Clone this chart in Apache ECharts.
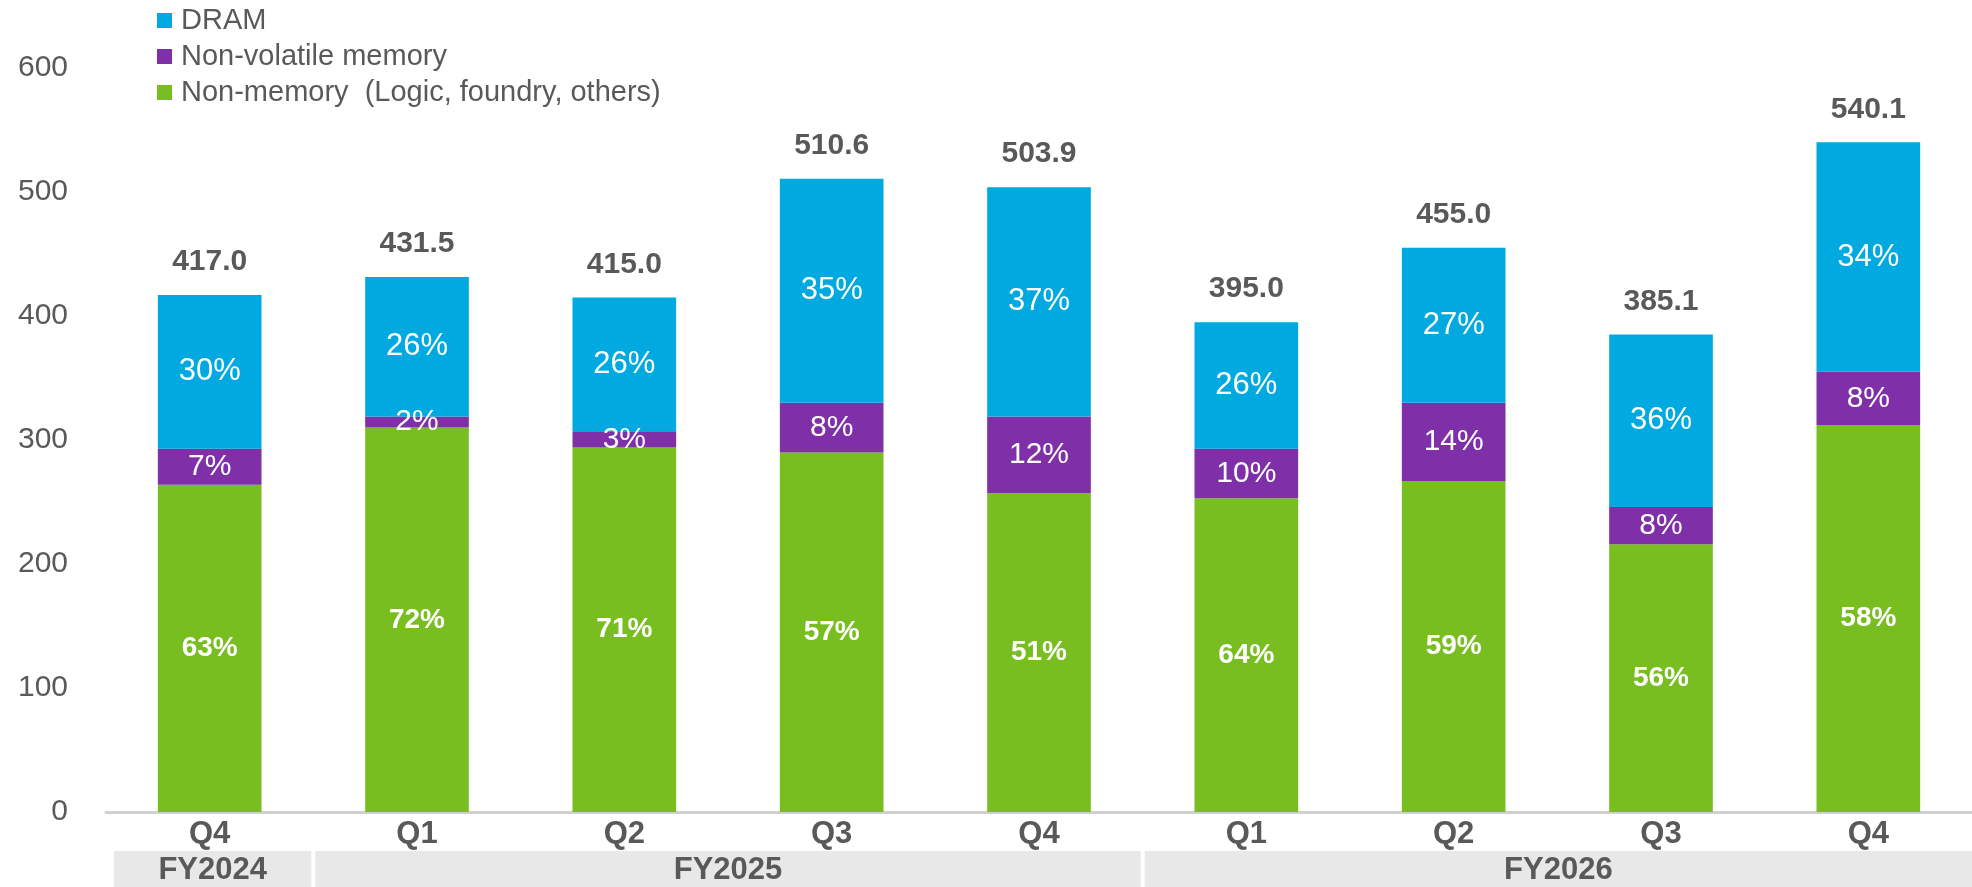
<!DOCTYPE html>
<html><head><meta charset="utf-8">
<script src="https://cdn.jsdelivr.net/npm/echarts@6/dist/echarts.min.js"></script>
<style>html,body{margin:0;padding:0;background:#fff}#c{width:1972px;height:887px}</style>
</head><body><div id="c"></div>
<script>
const quarters = ['Q4','Q1','Q2','Q3','Q4','Q1','Q2','Q3','Q4'];
const fiscalYears = [
  {name:'FY2024', from:0, to:0},
  {name:'FY2025', from:1, to:4},
  {name:'FY2026', from:5, to:8}
];
const nonMemory = [264, 310, 294, 290, 257, 253, 267, 216, 312];
const nonVolatile = [29, 9, 13, 40, 62, 40, 63, 30, 43];
const dram = [124, 112.5, 108, 180.6, 184.9, 102, 125, 139.1, 185.1];
const totals = ['417.0','431.5','415.0','510.6','503.9','395.0','455.0','385.1','540.1'];
const nonMemoryPct = [63, 72, 71, 57, 51, 64, 59, 56, 58];
const nonVolatilePct = [7, 2, 3, 8, 12, 10, 14, 8, 8];
const dramPct = [30, 26, 26, 35, 37, 26, 27, 36, 34];
const yTicks = [0, 100, 200, 300, 400, 500, 600];

const FONT = '"Liberation Sans", Arial, sans-serif';
const GRAY = '#595959';
const chart = echarts.init(document.getElementById('c'));
const option = {
  animation: false,
  textStyle: {fontFamily: FONT},
  grid: {left: 106, width: 1868, top: 68, bottom: 75, containLabel: false},
  legend: {
    data: ['DRAM', 'Non-volatile memory', 'Non-memory  (Logic, foundry, others)'],
    orient: 'vertical', left: 152, top: 1, itemWidth: 15, itemHeight: 15, itemGap: 7,
    icon: 'rect',
    textStyle: {fontFamily: FONT, fontSize: 29, color: GRAY, padding: [0, 0, 0, 4]}
  },
  xAxis: {
    type: 'category', data: quarters,
    axisLine: {lineStyle: {color: '#d0d0d0', width: 3}},
    axisTick: {show: false},
    axisLabel: {fontFamily: FONT, fontSize: 31, fontWeight: 'bold', color: GRAY, margin: 7}
  },
  yAxis: {
    type: 'value', min: yTicks[0], max: yTicks[yTicks.length - 1], interval: 100,
    splitLine: {show: false}, axisLine: {show: false}, axisTick: {show: false},
    axisLabel: {fontFamily: FONT, fontSize: 30, color: GRAY, margin: 38}
  },
  series: [
    {
      name: 'Non-memory  (Logic, foundry, others)', type: 'bar', stack: 'a', barWidth: '50%',
      data: nonMemory, itemStyle: {color: '#78BE20'},
      label: {show: true, position: 'inside', color: '#fff', fontFamily: FONT, fontSize: 28, fontWeight: 'bold',
        formatter: p => nonMemoryPct[p.dataIndex] + '%'}
    },
    {
      name: 'Non-volatile memory', type: 'bar', stack: 'a',
      data: nonVolatile, itemStyle: {color: '#7F30A8'},
      label: {show: true, position: 'inside', color: '#fff', fontFamily: FONT, fontSize: 30,
        formatter: p => nonVolatilePct[p.dataIndex] + '%'}
    },
    {
      name: 'DRAM', type: 'bar', stack: 'a',
      data: dram, itemStyle: {color: '#00A9E0'},
      label: {show: true, position: 'inside', color: '#fff', fontFamily: FONT, fontSize: 31,
        formatter: p => dramPct[p.dataIndex] + '%'}
    },
    {
      name: 'total', type: 'bar', stack: 'a',
      data: totals.map(() => 0), itemStyle: {color: 'transparent'},
      label: {show: true, position: 'top', distance: 18, color: GRAY, fontFamily: FONT, fontSize: 30, fontWeight: 'bold',
        formatter: p => totals[p.dataIndex]}
    }
  ]
};
chart.setOption(option);

function drawBands() {
  const c0 = chart.convertToPixel({xAxisIndex: 0}, 0);
  const c1 = chart.convertToPixel({xAxisIndex: 0}, 1);
  const half = (c1 - c0) / 2;
  const y0 = chart.convertToPixel({yAxisIndex: 0}, 0);
  const top = y0 + 39, h = 887 - top;
  const elems = [];
  fiscalYears.forEach((fy, i) => {
    let x0 = chart.convertToPixel({xAxisIndex: 0}, fy.from) - half;
    let x1 = chart.convertToPixel({xAxisIndex: 0}, fy.to) + half;
    if (i === 0) x0 += 6;
    x0 += 2; x1 -= 2;
    if (i === fiscalYears.length - 1) x1 = 1972;
    elems.push({type: 'rect', shape: {x: x0, y: top, width: x1 - x0, height: h}, style: {fill: '#E8E8E8'}, z: 0, silent: true});
    elems.push({type: 'text', x: (x0 + x1) / 2, y: top + h / 2 + 1, style: {text: fy.name, fill: GRAY, font: 'bold 31px ' + FONT, align: 'center', verticalAlign: 'middle'}, z: 1, silent: true});
  });
  chart.setOption({graphic: elems});
}
drawBands();
</script></body></html>
